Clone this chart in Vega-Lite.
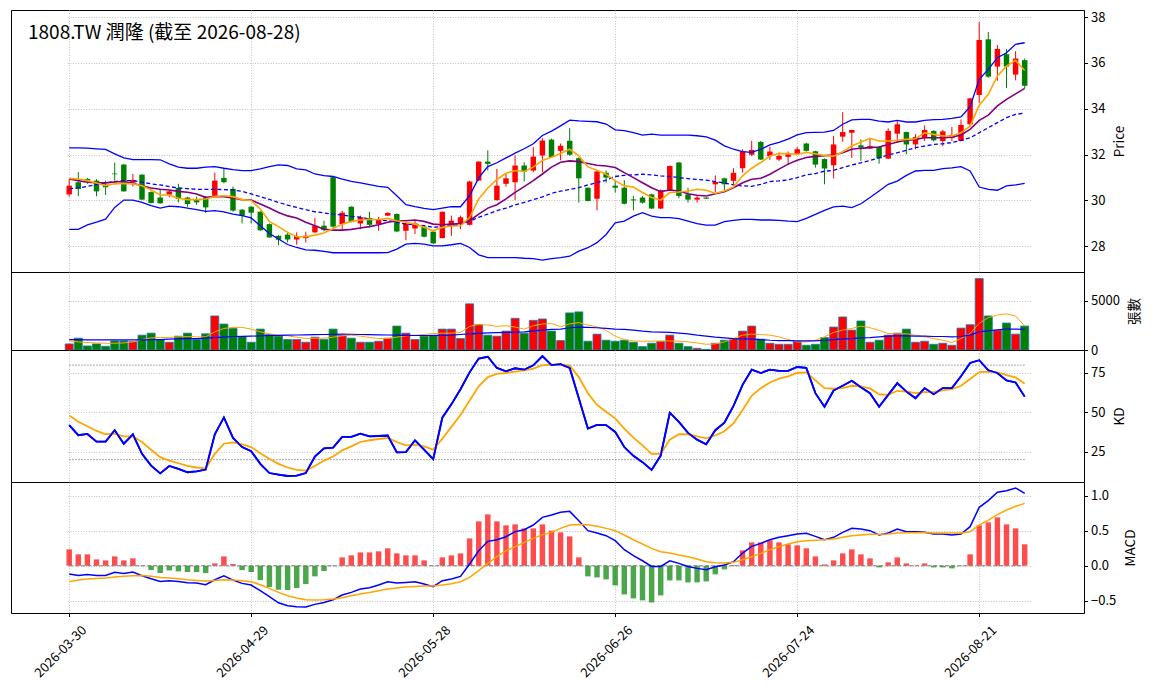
{
"$schema":"https://vega.github.io/schema/vega-lite/v6.json",
"padding":{"left":10,"top":9,"right":5,"bottom":5},
"bounds":"flush",
"config":{"font":"Noto Sans CJK TC","view":{"stroke":"black","strokeWidth":1},
"axis":{"labelFont":"Noto Sans CJK TC","labelFontSize":13,"labelColor":"black","tickColor":"black","tickSize":3.5,"labelPadding":3,"domain":false,"gridColor":"#b0b0b0","gridDash":[1,1.6],"gridWidth":0.8,"titleFont":"Noto Sans CJK TC","titleFontWeight":"normal","titleFontSize":13.5,"titleColor":"black"},
"axisRight":{"titleAngle":270,"titleBaseline":"top","titlePadding":8,"titleAlign":"center"}},
"spacing":0,
"resolve":{"scale":{"x":"shared"}},
"data":{"values":[
{"d":"2026-03-30","o":30.26,"h":30.93,"l":30.16,"c":30.64,"v":616,"m5":30.96,"m10":30.93,"m20":30.50,"bu":32.29,"bl":28.73,"vm5":925,"vm20":1062,"k":41.9,"dd":48.1,"dif":-0.119,"dea":-0.229,"hist":0.233},
{"d":"2026-03-31","o":30.79,"h":31.23,"l":30.18,"c":30.50,"v":1199,"m5":30.93,"m10":30.86,"m20":30.54,"bu":32.29,"bl":28.73,"vm5":822,"vm20":1045,"k":35.5,"dd":44.0,"dif":-0.138,"dea":-0.205,"hist":0.162},
{"d":"2026-04-01","o":30.93,"h":30.98,"l":30.72,"c":30.83,"v":411,"m5":30.86,"m10":30.79,"m20":30.61,"bu":32.28,"bl":28.93,"vm5":753,"vm20":1027,"k":36.3,"dd":41.2,"dif":-0.124,"dea":-0.190,"hist":0.162},
{"d":"2026-04-02","o":30.86,"h":30.92,"l":30.18,"c":30.39,"v":616,"m5":30.76,"m10":30.77,"m20":30.69,"bu":32.25,"bl":29.05,"vm5":719,"vm20":1027,"k":31.4,"dd":38.2,"dif":-0.138,"dea":-0.181,"hist":0.090},
{"d":"2026-04-07","o":30.69,"h":30.86,"l":30.23,"c":30.57,"v":377,"m5":30.64,"m10":30.76,"m20":30.76,"bu":32.22,"bl":29.18,"vm5":685,"vm20":1027,"k":31.4,"dd":36.1,"dif":-0.138,"dea":-0.176,"hist":0.076},
{"d":"2026-04-08","o":31.17,"h":31.65,"l":30.86,"c":31.14,"v":925,"m5":30.72,"m10":30.80,"m20":30.82,"bu":32.03,"bl":29.69,"vm5":685,"vm20":1027,"k":38.7,"dd":36.5,"dif":-0.095,"dea":-0.162,"hist":0.133},
{"d":"2026-04-09","o":31.56,"h":31.59,"l":30.38,"c":30.39,"v":925,"m5":30.74,"m10":30.82,"m20":30.86,"bu":31.85,"bl":30.01,"vm5":719,"vm20":1027,"k":30.1,"dd":34.8,"dif":-0.110,"dea":-0.152,"hist":0.076},
{"d":"2026-04-10","o":30.77,"h":31.15,"l":30.60,"c":30.89,"v":856,"m5":30.72,"m10":30.74,"m20":30.86,"bu":31.78,"bl":30.01,"vm5":822,"vm20":1027,"k":36.1,"dd":34.8,"dif":-0.090,"dea":-0.143,"hist":0.105},
{"d":"2026-04-13","o":31.12,"h":31.14,"l":30.01,"c":30.03,"v":1507,"m5":30.64,"m10":30.64,"m20":30.79,"bu":31.78,"bl":29.91,"vm5":1062,"vm20":1027,"k":23.7,"dd":31.2,"dif":-0.143,"dea":-0.138,"hist":-0.005},
{"d":"2026-04-14","o":30.36,"h":30.39,"l":29.87,"c":29.88,"v":1712,"m5":30.45,"m10":30.54,"m20":30.72,"bu":31.78,"bl":29.77,"vm5":1233,"vm20":1040,"k":16.2,"dd":26.3,"dif":-0.186,"dea":-0.152,"hist":-0.062},
{"d":"2026-04-15","o":30.12,"h":30.48,"l":29.85,"c":29.87,"v":1062,"m5":30.23,"m10":30.48,"m20":30.67,"bu":31.77,"bl":29.66,"vm5":1267,"vm20":1062,"k":11.3,"dd":21.6,"dif":-0.224,"dea":-0.167,"hist":-0.105},
{"d":"2026-04-16","o":30.25,"h":30.45,"l":30.13,"c":30.39,"v":788,"m5":30.23,"m10":30.45,"m20":30.60,"bu":31.59,"bl":29.75,"vm5":1267,"vm20":1096,"k":16.0,"dd":19.4,"dif":-0.214,"dea":-0.176,"hist":-0.067},
{"d":"2026-04-17","o":30.54,"h":30.72,"l":29.91,"c":30.06,"v":1404,"m5":30.09,"m10":30.39,"m20":30.54,"bu":31.45,"bl":29.72,"vm5":1336,"vm20":1130,"k":14.1,"dd":17.7,"dif":-0.224,"dea":-0.186,"hist":-0.081},
{"d":"2026-04-20","o":30.12,"h":30.15,"l":29.72,"c":29.84,"v":1712,"m5":30.03,"m10":30.35,"m20":30.51,"bu":31.40,"bl":29.66,"vm5":1370,"vm20":1150,"k":12.0,"dd":16.0,"dif":-0.243,"dea":-0.200,"hist":-0.090},
{"d":"2026-04-21","o":30.03,"h":30.16,"l":29.80,"c":29.91,"v":1062,"m5":30.03,"m10":30.28,"m20":30.48,"bu":31.40,"bl":29.59,"vm5":1336,"vm20":1165,"k":12.6,"dd":15.0,"dif":-0.248,"dea":-0.210,"hist":-0.090},
{"d":"2026-04-22","o":30.13,"h":30.18,"l":29.45,"c":29.69,"v":1644,"m5":30.06,"m10":30.13,"m20":30.48,"bu":31.45,"bl":29.52,"vm5":1336,"vm20":1216,"k":13.7,"dd":14.5,"dif":-0.271,"dea":-0.219,"hist":-0.105},
{"d":"2026-04-23","o":30.20,"h":31.21,"l":30.16,"c":30.86,"v":3459,"m5":30.16,"m10":30.16,"m20":30.48,"bu":31.47,"bl":29.55,"vm5":1850,"vm20":1267,"k":36.1,"dd":23.7,"dif":-0.200,"dea":-0.210,"hist":0.033},
{"d":"2026-04-24","o":30.98,"h":31.39,"l":30.74,"c":30.79,"v":2637,"m5":30.20,"m10":30.16,"m20":30.47,"bu":31.40,"bl":29.50,"vm5":2192,"vm20":1318,"k":46.8,"dd":30.1,"dif":-0.143,"dea":-0.200,"hist":0.133},
{"d":"2026-04-27","o":30.50,"h":30.60,"l":29.50,"c":29.55,"v":2192,"m5":30.16,"m10":30.10,"m20":30.45,"bu":31.34,"bl":29.40,"vm5":2295,"vm20":1370,"k":33.8,"dd":31.0,"dif":-0.205,"dea":-0.205,"hist":0.024},
{"d":"2026-04-28","o":29.59,"h":29.62,"l":28.99,"c":29.33,"v":1370,"m5":30.03,"m10":30.03,"m20":30.39,"bu":31.30,"bl":29.33,"vm5":2295,"vm20":1387,"k":28.0,"dd":29.7,"dif":-0.252,"dea":-0.214,"hist":-0.062},
{"d":"2026-04-29","o":29.72,"h":29.75,"l":28.99,"c":29.46,"v":788,"m5":29.99,"m10":30.01,"m20":30.28,"bu":31.30,"bl":29.23,"vm5":2124,"vm20":1404,"k":25.4,"dd":28.0,"dif":-0.276,"dea":-0.229,"hist":-0.090},
{"d":"2026-04-30","o":29.50,"h":29.53,"l":28.67,"c":28.69,"v":2123,"m5":29.62,"m10":29.84,"m20":30.16,"bu":31.37,"bl":28.89,"vm5":1850,"vm20":1438,"k":17.3,"dd":24.1,"dif":-0.357,"dea":-0.271,"hist":-0.205},
{"d":"2026-05-04","o":28.96,"h":28.99,"l":28.36,"c":28.38,"v":1575,"m5":29.08,"m10":29.66,"m20":30.04,"bu":31.47,"bl":28.55,"vm5":1644,"vm20":1473,"k":11.5,"dd":20.5,"dif":-0.443,"dea":-0.324,"hist":-0.305},
{"d":"2026-05-05","o":28.45,"h":28.48,"l":28.04,"c":28.28,"v":1404,"m5":28.85,"m10":29.47,"m20":29.91,"bu":31.55,"bl":28.31,"vm5":1507,"vm20":1490,"k":10.5,"dd":17.3,"dif":-0.529,"dea":-0.381,"hist":-0.343},
{"d":"2026-05-06","o":28.50,"h":28.57,"l":28.16,"c":28.29,"v":1062,"m5":28.60,"m10":29.32,"m20":29.79,"bu":31.52,"bl":28.07,"vm5":1439,"vm20":1507,"k":9.6,"dd":15.0,"dif":-0.571,"dea":-0.429,"hist":-0.348},
{"d":"2026-05-07","o":28.29,"h":28.60,"l":28.06,"c":28.44,"v":1062,"m5":28.41,"m10":29.23,"m20":29.69,"bu":31.37,"bl":27.94,"vm5":1302,"vm20":1524,"k":9.8,"dd":13.5,"dif":-0.586,"dea":-0.462,"hist":-0.319},
{"d":"2026-05-08","o":28.35,"h":28.63,"l":28.16,"c":28.45,"v":788,"m5":28.41,"m10":29.04,"m20":29.59,"bu":31.33,"bl":27.84,"vm5":1165,"vm20":1541,"k":11.5,"dd":13.0,"dif":-0.590,"dea":-0.486,"hist":-0.262},
{"d":"2026-05-11","o":28.60,"h":29.23,"l":28.58,"c":28.89,"v":1301,"m5":28.48,"m10":28.89,"m20":29.50,"bu":31.15,"bl":27.82,"vm5":1199,"vm20":1558,"k":22.0,"dd":16.0,"dif":-0.552,"dea":-0.490,"hist":-0.152},
{"d":"2026-05-12","o":28.89,"h":29.11,"l":28.64,"c":28.70,"v":1062,"m5":28.57,"m10":28.74,"m20":29.45,"bu":31.08,"bl":27.77,"vm5":1199,"vm20":1576,"k":27.1,"dd":19.4,"dif":-0.524,"dea":-0.486,"hist":-0.076},
{"d":"2026-05-13","o":31.01,"h":31.02,"l":28.74,"c":28.85,"v":2123,"m5":28.77,"m10":28.70,"m20":29.40,"bu":31.04,"bl":27.71,"vm5":1302,"vm20":1593,"k":27.6,"dd":22.0,"dif":-0.486,"dea":-0.476,"hist":-0.005},
{"d":"2026-05-14","o":28.96,"h":29.55,"l":28.70,"c":29.46,"v":1507,"m5":28.96,"m10":28.70,"m20":29.36,"bu":30.93,"bl":27.71,"vm5":1439,"vm20":1610,"k":34.4,"dd":25.9,"dif":-0.419,"dea":-0.457,"hist":0.119},
{"d":"2026-05-15","o":29.72,"h":29.74,"l":29.04,"c":29.05,"v":1199,"m5":29.08,"m10":28.73,"m20":29.30,"bu":30.83,"bl":27.71,"vm5":1507,"vm20":1600,"k":34.4,"dd":28.4,"dif":-0.381,"dea":-0.429,"hist":0.148},
{"d":"2026-05-18","o":28.99,"h":29.33,"l":28.74,"c":29.26,"v":788,"m5":29.14,"m10":28.79,"m20":29.26,"bu":30.76,"bl":27.71,"vm5":1404,"vm20":1576,"k":36.5,"dd":31.2,"dif":-0.333,"dea":-0.405,"hist":0.190},
{"d":"2026-05-19","o":29.23,"h":29.50,"l":28.82,"c":28.93,"v":788,"m5":29.17,"m10":28.85,"m20":29.18,"bu":30.69,"bl":27.71,"vm5":1267,"vm20":1558,"k":34.8,"dd":32.3,"dif":-0.314,"dea":-0.381,"hist":0.190},
{"d":"2026-05-20","o":28.96,"h":29.28,"l":28.67,"c":29.18,"v":890,"m5":29.15,"m10":28.93,"m20":29.14,"bu":30.61,"bl":27.71,"vm5":1165,"vm20":1541,"k":35.0,"dd":33.1,"dif":-0.276,"dea":-0.357,"hist":0.205},
{"d":"2026-05-21","o":29.33,"h":29.47,"l":29.31,"c":29.45,"v":1199,"m5":29.21,"m10":29.04,"m20":29.11,"bu":30.57,"bl":27.72,"vm5":1165,"vm20":1524,"k":35.3,"dd":33.8,"dif":-0.229,"dea":-0.333,"hist":0.248},
{"d":"2026-05-22","o":29.40,"h":29.43,"l":28.61,"c":28.64,"v":2432,"m5":29.11,"m10":29.11,"m20":29.04,"bu":30.20,"bl":27.87,"vm5":1302,"vm20":1507,"k":24.6,"dd":31.2,"dif":-0.248,"dea":-0.319,"hist":0.176},
{"d":"2026-05-25","o":28.67,"h":29.04,"l":28.26,"c":28.99,"v":1712,"m5":29.04,"m10":29.11,"m20":28.96,"bu":29.81,"bl":28.09,"vm5":1439,"vm20":1490,"k":24.8,"dd":29.1,"dif":-0.238,"dea":-0.305,"hist":0.148},
{"d":"2026-05-26","o":28.77,"h":29.11,"l":28.53,"c":28.99,"v":1062,"m5":28.96,"m10":29.14,"m20":28.93,"bu":29.72,"bl":28.12,"vm5":1507,"vm20":1473,"k":32.3,"dd":29.5,"dif":-0.229,"dea":-0.295,"hist":0.148},
{"d":"2026-05-27","o":28.85,"h":28.88,"l":28.38,"c":28.41,"v":1404,"m5":28.82,"m10":29.08,"m20":28.89,"bu":29.65,"bl":28.09,"vm5":1576,"vm20":1473,"k":26.3,"dd":28.4,"dif":-0.262,"dea":-0.290,"hist":0.076},
{"d":"2026-05-28","o":28.63,"h":28.66,"l":28.09,"c":28.12,"v":1507,"m5":28.67,"m10":28.96,"m20":28.82,"bu":29.59,"bl":28.01,"vm5":1678,"vm20":1473,"k":20.3,"dd":26.3,"dif":-0.300,"dea":-0.290,"hist":-0.003},
{"d":"2026-05-29","o":28.35,"h":29.51,"l":28.34,"c":29.50,"v":2123,"m5":28.82,"m10":28.93,"m20":28.85,"bu":29.66,"bl":28.01,"vm5":1713,"vm20":1490,"k":46.6,"dd":33.3,"dif":-0.214,"dea":-0.276,"hist":0.119},
{"d":"2026-06-01","o":28.88,"h":29.33,"l":28.45,"c":29.11,"v":2123,"m5":28.88,"m10":28.96,"m20":28.89,"bu":29.72,"bl":28.06,"vm5":1713,"vm20":1507,"k":55.1,"dd":40.8,"dif":-0.190,"dea":-0.257,"hist":0.148},
{"d":"2026-06-02","o":28.99,"h":29.33,"l":28.74,"c":29.26,"v":1164,"m5":28.89,"m10":28.99,"m20":28.95,"bu":29.72,"bl":28.12,"vm5":1781,"vm20":1576,"k":64.7,"dd":48.3,"dif":-0.152,"dea":-0.229,"hist":0.176},
{"d":"2026-06-03","o":28.93,"h":30.85,"l":28.90,"c":30.82,"v":4692,"m5":29.25,"m10":29.11,"m20":29.08,"bu":30.20,"bl":27.94,"vm5":2400,"vm20":1644,"k":75.4,"dd":57.5,"dif":0.024,"dea":-0.167,"hist":0.390},
{"d":"2026-06-04","o":30.86,"h":31.70,"l":30.85,"c":31.69,"v":2569,"m5":30.06,"m10":29.40,"m20":29.26,"bu":30.98,"bl":27.62,"vm5":2580,"vm20":1695,"k":84.2,"dd":66.5,"dif":0.214,"dea":-0.071,"hist":0.633},
{"d":"2026-06-05","o":31.69,"h":32.18,"l":31.30,"c":31.59,"v":1507,"m5":30.54,"m10":29.66,"m20":29.40,"bu":31.47,"bl":27.50,"vm5":2535,"vm20":1747,"k":85.3,"dd":72.4,"dif":0.348,"dea":0.033,"hist":0.733},
{"d":"2026-06-08","o":30.01,"h":31.37,"l":29.99,"c":30.64,"v":1404,"m5":30.91,"m10":29.81,"m20":29.55,"bu":31.64,"bl":27.50,"vm5":2398,"vm20":1764,"k":78.2,"dd":74.4,"dif":0.371,"dea":0.129,"hist":0.633},
{"d":"2026-06-09","o":30.72,"h":31.15,"l":30.60,"c":30.96,"v":1918,"m5":31.18,"m10":30.06,"m20":29.66,"bu":31.85,"bl":27.50,"vm5":2466,"vm20":1781,"k":76.1,"dd":75.0,"dif":0.414,"dea":0.214,"hist":0.576},
{"d":"2026-06-10","o":30.79,"h":31.96,"l":30.01,"c":31.52,"v":3220,"m5":31.30,"m10":30.35,"m20":29.80,"bu":32.06,"bl":27.50,"vm5":2329,"vm20":1815,"k":78.0,"dd":75.9,"dif":0.486,"dea":0.271,"hist":0.590},
{"d":"2026-06-11","o":31.52,"h":31.66,"l":30.82,"c":31.26,"v":1712,"m5":31.26,"m10":30.60,"m20":29.91,"bu":32.25,"bl":27.47,"vm5":2124,"vm20":1850,"k":77.1,"dd":76.7,"dif":0.514,"dea":0.333,"hist":0.533},
{"d":"2026-06-12","o":31.30,"h":32.32,"l":31.23,"c":31.91,"v":3014,"m5":31.45,"m10":30.86,"m20":30.03,"bu":32.47,"bl":27.45,"vm5":2466,"vm20":1935,"k":79.9,"dd":77.8,"dif":0.581,"dea":0.390,"hist":0.533},
{"d":"2026-06-15","o":31.96,"h":32.72,"l":31.23,"c":32.61,"v":3151,"m5":31.74,"m10":31.15,"m20":30.15,"bu":32.83,"bl":27.39,"vm5":2637,"vm20":2021,"k":85.7,"dd":79.9,"dif":0.690,"dea":0.443,"hist":0.590},
{"d":"2026-06-16","o":32.65,"h":32.69,"l":31.85,"c":31.89,"v":1918,"m5":31.88,"m10":31.45,"m20":30.30,"bu":33.02,"bl":27.45,"vm5":2700,"vm20":2089,"k":80.0,"dd":80.3,"dif":0.724,"dea":0.476,"hist":0.500},
{"d":"2026-06-17","o":32.16,"h":32.48,"l":31.75,"c":32.38,"v":959,"m5":32.04,"m10":31.66,"m20":30.40,"bu":33.25,"bl":27.50,"vm5":2363,"vm20":2124,"k":80.6,"dd":80.3,"dif":0.762,"dea":0.533,"hist":0.476},
{"d":"2026-06-18","o":32.60,"h":33.15,"l":31.94,"c":31.99,"v":3768,"m5":32.23,"m10":31.72,"m20":30.47,"bu":33.50,"bl":27.56,"vm5":2650,"vm20":2261,"k":78.2,"dd":79.7,"dif":0.776,"dea":0.581,"hist":0.419},
{"d":"2026-06-22","o":31.84,"h":31.87,"l":29.90,"c":30.96,"v":3870,"m5":31.94,"m10":31.69,"m20":30.55,"bu":33.47,"bl":27.78,"vm5":2780,"vm20":2329,"k":59.0,"dd":72.4,"dif":0.643,"dea":0.590,"hist":0.119},
{"d":"2026-06-23","o":30.55,"h":30.56,"l":29.96,"c":29.97,"v":890,"m5":31.46,"m10":31.61,"m20":30.67,"bu":33.45,"bl":27.93,"vm5":2535,"vm20":2295,"k":39.7,"dd":62.2,"dif":0.500,"dea":0.586,"hist":-0.152},
{"d":"2026-06-24","o":30.07,"h":31.28,"l":29.56,"c":31.26,"v":1610,"m5":31.31,"m10":31.53,"m20":30.77,"bu":33.43,"bl":28.15,"vm5":2363,"vm20":2261,"k":42.1,"dd":54.7,"dif":0.467,"dea":0.562,"hist":-0.167},
{"d":"2026-06-25","o":31.20,"h":31.31,"l":30.77,"c":30.99,"v":993,"m5":31.14,"m10":31.50,"m20":30.88,"bu":33.33,"bl":28.51,"vm5":2000,"vm20":2192,"k":41.9,"dd":50.4,"dif":0.429,"dea":0.533,"hist":-0.195},
{"d":"2026-06-26","o":30.64,"h":30.85,"l":30.34,"c":30.55,"v":890,"m5":30.85,"m10":31.43,"m20":31.04,"bu":33.08,"bl":29.02,"vm5":1400,"vm20":2124,"k":37.6,"dd":46.2,"dif":0.357,"dea":0.500,"hist":-0.281},
{"d":"2026-06-29","o":30.55,"h":30.88,"l":29.82,"c":29.85,"v":993,"m5":30.63,"m10":31.21,"m20":31.09,"bu":33.04,"bl":29.09,"vm5":1062,"vm20":2089,"k":28.0,"dd":39.7,"dif":0.229,"dea":0.438,"hist":-0.410},
{"d":"2026-06-30","o":30.04,"h":30.19,"l":29.56,"c":30.00,"v":788,"m5":30.58,"m10":30.99,"m20":31.11,"bu":32.96,"bl":29.31,"vm5":925,"vm20":2021,"k":22.4,"dd":34.0,"dif":0.143,"dea":0.371,"hist":-0.467},
{"d":"2026-07-01","o":30.12,"h":30.19,"l":29.86,"c":29.90,"v":343,"m5":30.34,"m10":30.77,"m20":31.14,"bu":32.85,"bl":29.46,"vm5":890,"vm20":1918,"k":18.4,"dd":29.1,"dif":0.071,"dea":0.310,"hist":-0.495},
{"d":"2026-07-02","o":30.26,"h":30.29,"l":29.62,"c":29.64,"v":685,"m5":30.12,"m10":30.55,"m20":31.11,"bu":32.89,"bl":29.31,"vm5":890,"vm20":1850,"k":13.5,"dd":23.7,"dif":-0.010,"dea":0.248,"hist":-0.524},
{"d":"2026-07-03","o":29.64,"h":30.47,"l":29.62,"c":30.44,"v":856,"m5":30.01,"m10":30.38,"m20":31.07,"bu":32.85,"bl":29.24,"vm5":925,"vm20":1815,"k":22.6,"dd":23.7,"dif":-0.010,"dea":0.200,"hist":-0.424},
{"d":"2026-07-06","o":30.44,"h":31.52,"l":30.42,"c":31.50,"v":1507,"m5":30.34,"m10":30.45,"m20":31.04,"bu":32.85,"bl":29.24,"vm5":925,"vm20":1781,"k":49.8,"dd":32.7,"dif":0.071,"dea":0.181,"hist":-0.210},
{"d":"2026-07-07","o":31.65,"h":31.68,"l":30.09,"c":30.19,"v":685,"m5":30.36,"m10":30.41,"m20":30.99,"bu":32.85,"bl":29.20,"vm5":890,"vm20":1713,"k":44.0,"dd":36.1,"dif":0.033,"dea":0.152,"hist":-0.210},
{"d":"2026-07-08","o":30.26,"h":30.55,"l":29.90,"c":30.03,"v":343,"m5":30.41,"m10":30.29,"m20":30.95,"bu":32.85,"bl":29.09,"vm5":822,"vm20":1644,"k":37.0,"dd":36.1,"dif":-0.010,"dea":0.129,"hist":-0.238},
{"d":"2026-07-09","o":30.03,"h":30.19,"l":29.90,"c":30.12,"v":171,"m5":30.48,"m10":30.22,"m20":30.91,"bu":32.82,"bl":28.98,"vm5":719,"vm20":1507,"k":32.7,"dd":34.8,"dif":-0.038,"dea":0.095,"hist":-0.238},
{"d":"2026-07-10","o":30.12,"h":30.13,"l":30.05,"c":30.07,"v":68,"m5":30.44,"m10":30.19,"m20":30.88,"bu":32.77,"bl":28.92,"vm5":582,"vm20":1404,"k":29.7,"dd":33.5,"dif":-0.057,"dea":0.057,"hist":-0.224},
{"d":"2026-07-13","o":30.70,"h":31.09,"l":30.36,"c":30.80,"v":685,"m5":30.31,"m10":30.29,"m20":30.82,"bu":32.63,"bl":28.92,"vm5":616,"vm20":1302,"k":38.7,"dd":35.3,"dif":-0.014,"dea":0.043,"hist":-0.124},
{"d":"2026-07-14","o":30.96,"h":30.99,"l":30.41,"c":30.70,"v":993,"m5":30.41,"m10":30.38,"m20":30.76,"bu":32.38,"bl":29.07,"vm5":822,"vm20":1233,"k":43.4,"dd":38.0,"dif":0.010,"dea":0.038,"hist":-0.052},
{"d":"2026-07-15","o":30.85,"h":31.40,"l":30.70,"c":31.20,"v":1164,"m5":30.58,"m10":30.55,"m20":30.67,"bu":32.23,"bl":29.12,"vm5":1165,"vm20":1165,"k":54.1,"dd":43.0,"dif":0.057,"dea":0.048,"hist":0.010},
{"d":"2026-07-16","o":31.40,"h":32.23,"l":31.21,"c":32.13,"v":1918,"m5":31.07,"m10":30.77,"m20":30.63,"bu":32.13,"bl":29.17,"vm5":1507,"vm20":1130,"k":67.5,"dd":51.5,"dif":0.181,"dea":0.086,"hist":0.219},
{"d":"2026-07-17","o":31.99,"h":32.60,"l":31.93,"c":32.20,"v":2432,"m5":31.40,"m10":30.92,"m20":30.61,"bu":32.09,"bl":29.17,"vm5":1610,"vm20":1096,"k":77.1,"dd":60.5,"dif":0.276,"dea":0.129,"hist":0.333},
{"d":"2026-07-20","o":32.55,"h":32.59,"l":31.76,"c":31.78,"v":1096,"m5":31.65,"m10":30.96,"m20":30.70,"bu":32.23,"bl":29.14,"vm5":1576,"vm20":1062,"k":75.0,"dd":65.4,"dif":0.319,"dea":0.176,"hist":0.333},
{"d":"2026-07-21","o":31.93,"h":32.34,"l":31.77,"c":32.13,"v":685,"m5":31.94,"m10":31.14,"m20":30.82,"bu":32.42,"bl":29.14,"vm5":1507,"vm20":993,"k":77.1,"dd":69.0,"dif":0.371,"dea":0.229,"hist":0.362},
{"d":"2026-07-22","o":31.78,"h":32.09,"l":31.72,"c":31.94,"v":582,"m5":32.04,"m10":31.36,"m20":30.85,"bu":32.53,"bl":29.12,"vm5":1336,"vm20":959,"k":76.3,"dd":71.4,"dif":0.405,"dea":0.271,"hist":0.333},
{"d":"2026-07-23","o":31.90,"h":32.13,"l":31.55,"c":32.01,"v":582,"m5":32.04,"m10":31.58,"m20":30.89,"bu":32.67,"bl":29.09,"vm5":1062,"vm20":959,"k":76.3,"dd":72.9,"dif":0.429,"dea":0.310,"hist":0.305},
{"d":"2026-07-24","o":32.01,"h":32.33,"l":31.99,"c":32.23,"v":856,"m5":32.01,"m10":31.75,"m20":30.99,"bu":32.86,"bl":29.07,"vm5":822,"vm20":925,"k":78.8,"dd":75.0,"dif":0.452,"dea":0.343,"hist":0.290},
{"d":"2026-07-27","o":32.48,"h":32.51,"l":32.13,"c":32.16,"v":480,"m5":32.09,"m10":31.87,"m20":31.11,"bu":32.96,"bl":29.21,"vm5":822,"vm20":925,"k":78.2,"dd":75.4,"dif":0.462,"dea":0.357,"hist":0.248},
{"d":"2026-07-28","o":32.14,"h":32.16,"l":31.43,"c":31.56,"v":582,"m5":32.03,"m10":31.92,"m20":31.17,"bu":32.97,"bl":29.39,"vm5":993,"vm20":925,"k":62.2,"dd":70.3,"dif":0.419,"dea":0.362,"hist":0.133},
{"d":"2026-07-29","o":31.80,"h":31.83,"l":30.70,"c":31.39,"v":1267,"m5":31.95,"m10":31.95,"m20":31.27,"bu":32.98,"bl":29.56,"vm5":1336,"vm20":993,"k":53.6,"dd":65.4,"dif":0.371,"dea":0.371,"hist":0.019},
{"d":"2026-07-30","o":31.53,"h":32.81,"l":30.96,"c":32.44,"v":2329,"m5":31.93,"m10":31.98,"m20":31.31,"bu":33.05,"bl":29.71,"vm5":1781,"vm20":1062,"k":63.9,"dd":65.0,"dif":0.405,"dea":0.381,"hist":0.076},
{"d":"2026-07-31","o":32.78,"h":33.85,"l":32.56,"c":32.98,"v":3357,"m5":32.12,"m10":32.08,"m20":31.43,"bu":33.32,"bl":29.75,"vm5":2021,"vm20":1130,"k":66.9,"dd":65.4,"dif":0.476,"dea":0.405,"hist":0.176},
{"d":"2026-08-03","o":32.95,"h":33.08,"l":31.85,"c":33.07,"v":2021,"m5":32.37,"m10":32.23,"m20":31.54,"bu":33.51,"bl":29.68,"vm5":2192,"vm20":1165,"k":70.1,"dd":66.9,"dif":0.533,"dea":0.429,"hist":0.233},
{"d":"2026-08-04","o":32.40,"h":32.66,"l":31.72,"c":32.30,"v":2946,"m5":32.55,"m10":32.27,"m20":31.64,"bu":33.53,"bl":29.85,"vm5":2432,"vm20":1233,"k":66.0,"dd":66.5,"dif":0.524,"dea":0.438,"hist":0.162},
{"d":"2026-08-05","o":32.27,"h":32.69,"l":32.23,"c":32.37,"v":788,"m5":32.71,"m10":32.30,"m20":31.74,"bu":33.53,"bl":30.12,"vm5":2261,"vm20":1267,"k":62.2,"dd":65.2,"dif":0.500,"dea":0.448,"hist":0.105},
{"d":"2026-08-06","o":32.33,"h":32.37,"l":31.60,"c":31.83,"v":993,"m5":32.59,"m10":32.33,"m20":31.86,"bu":33.46,"bl":30.41,"vm5":1987,"vm20":1336,"k":53.6,"dd":61.5,"dif":0.438,"dea":0.448,"hist":-0.024},
{"d":"2026-08-07","o":31.82,"h":33.14,"l":31.80,"c":33.03,"v":1507,"m5":32.59,"m10":32.44,"m20":31.98,"bu":33.42,"bl":30.70,"vm5":1678,"vm20":1404,"k":61.1,"dd":61.1,"dif":0.467,"dea":0.452,"hist":0.048},
{"d":"2026-08-10","o":32.91,"h":33.46,"l":32.52,"c":33.32,"v":1712,"m5":32.62,"m10":32.55,"m20":32.08,"bu":33.49,"bl":30.84,"vm5":1644,"vm20":1439,"k":68.6,"dd":63.7,"dif":0.524,"dea":0.467,"hist":0.119},
{"d":"2026-08-11","o":32.98,"h":33.00,"l":32.01,"c":32.44,"v":2123,"m5":32.66,"m10":32.62,"m20":32.18,"bu":33.42,"bl":31.09,"vm5":1644,"vm20":1439,"k":63.2,"dd":63.2,"dif":0.486,"dea":0.471,"hist":0.033},
{"d":"2026-08-12","o":32.44,"h":32.88,"l":32.23,"c":32.76,"v":788,"m5":32.69,"m10":32.66,"m20":32.30,"bu":33.42,"bl":31.28,"vm5":1507,"vm20":1404,"k":59.0,"dd":62.2,"dif":0.486,"dea":0.471,"hist":0.005},
{"d":"2026-08-13","o":32.73,"h":33.27,"l":32.59,"c":33.07,"v":890,"m5":32.95,"m10":32.73,"m20":32.37,"bu":33.49,"bl":31.31,"vm5":1336,"vm20":1404,"k":65.4,"dd":62.8,"dif":0.476,"dea":0.471,"hist":0.033},
{"d":"2026-08-14","o":33.03,"h":33.06,"l":32.57,"c":32.62,"v":582,"m5":32.88,"m10":32.73,"m20":32.44,"bu":33.52,"bl":31.31,"vm5":1165,"vm20":1370,"k":61.5,"dd":62.8,"dif":0.452,"dea":0.467,"hist":-0.024},
{"d":"2026-08-17","o":32.59,"h":33.08,"l":32.36,"c":33.01,"v":685,"m5":32.81,"m10":32.73,"m20":32.47,"bu":33.53,"bl":31.38,"vm5":993,"vm20":1370,"k":65.4,"dd":63.9,"dif":0.452,"dea":0.467,"hist":-0.024},
{"d":"2026-08-18","o":32.73,"h":33.20,"l":32.59,"c":32.85,"v":480,"m5":32.81,"m10":32.76,"m20":32.52,"bu":33.58,"bl":31.42,"vm5":753,"vm20":1336,"k":65.4,"dd":64.7,"dif":0.438,"dea":0.467,"hist":-0.038},
{"d":"2026-08-19","o":32.59,"h":33.53,"l":32.57,"c":33.29,"v":2226,"m5":32.95,"m10":32.85,"m20":32.62,"bu":33.64,"bl":31.47,"vm5":1165,"vm20":1370,"k":72.9,"dd":66.9,"dif":0.452,"dea":0.467,"hist":-0.005},
{"d":"2026-08-20","o":33.32,"h":34.48,"l":33.24,"c":34.45,"v":2569,"m5":33.24,"m10":33.10,"m20":32.73,"bu":34.09,"bl":31.28,"vm5":1678,"vm20":1507,"k":81.4,"dd":71.2,"dif":0.557,"dea":0.486,"hist":0.162},
{"d":"2026-08-21","o":34.60,"h":37.78,"l":34.26,"c":37.00,"v":7261,"m5":34.15,"m10":33.49,"m20":32.95,"bu":35.28,"bl":30.58,"vm5":2706,"vm20":1850,"k":83.1,"dd":75.6,"dif":0.833,"dea":0.581,"hist":0.576},
{"d":"2026-08-24","o":37.03,"h":37.35,"l":35.35,"c":35.40,"v":3459,"m5":34.63,"m10":33.72,"m20":33.17,"bu":35.72,"bl":30.48,"vm5":3288,"vm20":1952,"k":76.7,"dd":75.9,"dif":0.929,"dea":0.652,"hist":0.619},
{"d":"2026-08-25","o":35.84,"h":36.78,"l":35.22,"c":36.61,"v":2021,"m5":35.43,"m10":34.12,"m20":33.39,"bu":36.23,"bl":30.44,"vm5":3562,"vm20":2055,"k":75.0,"dd":75.4,"dif":1.048,"dea":0.729,"hist":0.690},
{"d":"2026-08-26","o":36.38,"h":36.60,"l":34.90,"c":35.84,"v":2740,"m5":35.86,"m10":34.41,"m20":33.61,"bu":36.44,"bl":30.63,"vm5":3665,"vm20":2124,"k":70.3,"dd":73.7,"dif":1.071,"dea":0.795,"hist":0.590},
{"d":"2026-08-27","o":35.49,"h":36.51,"l":35.24,"c":36.19,"v":1610,"m5":36.11,"m10":34.65,"m20":33.75,"bu":36.81,"bl":30.67,"vm5":3459,"vm20":2124,"k":69.0,"dd":72.2,"dif":1.110,"dea":0.848,"hist":0.533},
{"d":"2026-08-28","o":36.12,"h":36.19,"l":34.90,"c":35.00,"v":2432,"m5":35.67,"m10":34.89,"m20":33.81,"bu":36.88,"bl":30.74,"vm5":2432,"vm20":2089,"k":60.0,"dd":68.2,"dif":1.033,"dea":0.890,"hist":0.305}
]},
"vconcat":[
{"width":1073,"height":262,
"title":{"text":"1808.TW 潤隆 (截至 2026-08-28)","anchor":"start","frame":"group","fontSize":19,"fontWeight":"normal","color":"black","baseline":"top","offset":0,"dx":17,"dy":33},
"encoding":{"x":{"field":"d","type":"ordinal","scale":{"type":"band","paddingInner":0,"paddingOuter":0,"range":[53.65,1018.25]},"axis":{"values":["2026-03-30","2026-04-29","2026-05-28","2026-06-26","2026-07-24","2026-08-21"],"labels":false,"ticks":false,"title":null,"grid":true}}},
"layer":[
{"mark":{"type":"rule","strokeWidth":1},"encoding":{"y":{"field":"l","type":"quantitative","scale":{"domain":[26.87,38.31],"nice":false,"zero":false},"axis":{"orient":"right","values":[28,30,32,34,36,38],"title":"Price","grid":true}},"y2":{"field":"h"},"color":{"condition":{"test":"datum.c >= datum.o","value":"#ff0000"},"value":"#008000"}}},
{"mark":{"type":"bar","width":{"band":0.6}},"encoding":{"y":{"field":"o","type":"quantitative","axis":{"orient":"right","title":"Price"}},"y2":{"field":"c"},"color":{"condition":{"test":"datum.c >= datum.o","value":"#ff0000"},"value":"#008000"}}},
{"mark":{"type":"line","color":"#0000ff","strokeWidth":1.3},"encoding":{"y":{"field":"bu","type":"quantitative","axis":{"orient":"right","title":"Price"}}}},
{"mark":{"type":"line","color":"#0000ff","strokeWidth":1.3},"encoding":{"y":{"field":"bl","type":"quantitative","axis":{"orient":"right","title":"Price"}}}},
{"mark":{"type":"line","color":"#0000ff","strokeWidth":1.3,"strokeDash":[4,2.5]},"encoding":{"y":{"field":"m20","type":"quantitative","axis":{"orient":"right","title":"Price"}}}},
{"mark":{"type":"line","color":"#800080","strokeWidth":1.6},"encoding":{"y":{"field":"m10","type":"quantitative","axis":{"orient":"right","title":"Price"}}}},
{"mark":{"type":"line","color":"#ffa500","strokeWidth":1.6},"encoding":{"y":{"field":"m5","type":"quantitative","axis":{"orient":"right","title":"Price"}}}}
]},
{"width":1073,"height":78,
"encoding":{"x":{"field":"d","type":"ordinal","scale":{"type":"band","paddingInner":0,"paddingOuter":0,"range":[53.65,1018.25]},"axis":{"values":["2026-03-30","2026-04-29","2026-05-28","2026-06-26","2026-07-24","2026-08-21"],"labels":false,"ticks":false,"title":null,"grid":true}}},
"layer":[
{"mark":{"type":"bar","width":{"band":0.88},"stroke":"#1f77b4","strokeWidth":0.8},"encoding":{"y":{"field":"v","type":"quantitative","scale":{"domain":[0,7925],"nice":false},"axis":{"orient":"right","values":[0,5000],"format":"d","title":"張數","grid":true}},"color":{"condition":{"test":"datum.c >= datum.o","value":"#ff0000"},"value":"#008000"}}},
{"mark":{"type":"line","color":"#ffa500","strokeWidth":1},"encoding":{"y":{"field":"vm5","type":"quantitative","axis":{"orient":"right","title":"張數"}}}},
{"mark":{"type":"line","color":"#0000ff","strokeWidth":1.2},"encoding":{"y":{"field":"vm20","type":"quantitative","axis":{"orient":"right","title":"張數"}}}}
]},
{"width":1073,"height":132,
"encoding":{"x":{"field":"d","type":"ordinal","scale":{"type":"band","paddingInner":0,"paddingOuter":0,"range":[53.65,1018.25]},"axis":{"values":["2026-03-30","2026-04-29","2026-05-28","2026-06-26","2026-07-24","2026-08-21"],"labels":false,"ticks":false,"title":null,"grid":true}}},
"layer":[
{"mark":{"type":"line","color":"#0000ff","strokeWidth":1.8},"encoding":{"y":{"field":"k","type":"quantitative","scale":{"domain":[5.8,89.6],"nice":false,"zero":false},"axis":{"orient":"right","values":[25,50,75],"title":"KD","grid":true}}}},
{"mark":{"type":"line","color":"#8c8c8c","strokeWidth":1,"strokeDash":[1.5,1.5]},"encoding":{"y":{"datum":80,"type":"quantitative","axis":{"orient":"right","title":"KD"}}}},
{"mark":{"type":"line","color":"#8c8c8c","strokeWidth":1,"strokeDash":[1.5,1.5]},"encoding":{"y":{"datum":20,"type":"quantitative","axis":{"orient":"right","title":"KD"}}}},
{"mark":{"type":"line","color":"#ffa500","strokeWidth":1.8},"encoding":{"y":{"field":"dd","type":"quantitative","axis":{"orient":"right","title":"KD"}}}},
{"mark":{"type":"line","color":"#0000ff","strokeWidth":1.8},"encoding":{"y":{"field":"k","type":"quantitative","axis":{"orient":"right","title":"KD"}}}}
]},
{"width":1073,"height":131,
"encoding":{"x":{"field":"d","type":"ordinal","scale":{"type":"band","paddingInner":0,"paddingOuter":0,"range":[53.65,1018.25]},"axis":{"values":["2026-03-30","2026-04-29","2026-05-28","2026-06-26","2026-07-24","2026-08-21"],"labelAngle":-45,"labelAlign":"right","labelBaseline":"top","labelOffset":11,"labelPadding":7,"title":null,"grid":true,"ticks":true}}},
"layer":[
{"mark":{"type":"bar","width":{"band":0.6},"opacity":0.7},"encoding":{"y":{"field":"hist","type":"quantitative","scale":{"domain":[-0.675,1.195],"nice":false,"zero":false},"axis":{"orient":"right","values":[-0.5,0,0.5,1],"format":".1f","title":"MACD","grid":true}},"y2":{"datum":0},"color":{"condition":{"test":"datum.hist >= 0","value":"#ff0000"},"value":"#008000"}}},
{"mark":{"type":"line","color":"#808080","strokeWidth":1,"strokeDash":[4,2]},"encoding":{"y":{"datum":0,"type":"quantitative","axis":{"orient":"right","title":"MACD"}}}},
{"mark":{"type":"line","color":"#0000ff","strokeWidth":1.5},"encoding":{"y":{"field":"dif","type":"quantitative","axis":{"orient":"right","title":"MACD"}}}},
{"mark":{"type":"line","color":"#ffa500","strokeWidth":1.5},"encoding":{"y":{"field":"dea","type":"quantitative","axis":{"orient":"right","title":"MACD"}}}}
]}
]
}
